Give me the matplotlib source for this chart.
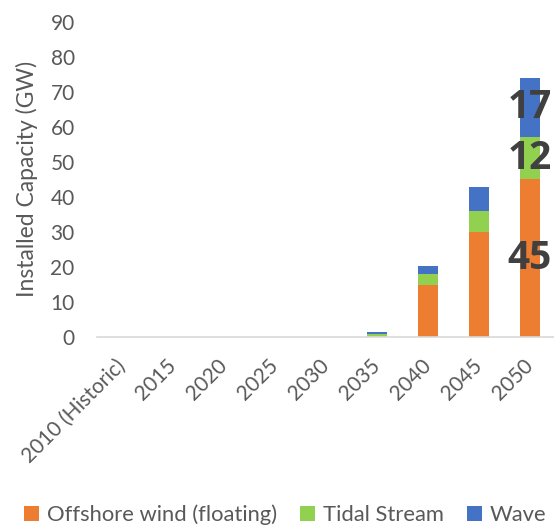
import matplotlib
matplotlib.use("Agg")
import matplotlib.pyplot as plt
from matplotlib.patches import Patch
import numpy as np

categories = ["2010 (Historic)", "2015", "2020", "2025", "2030",
              "2035", "2040", "2045", "2050"]
offshore_wind = [0, 0, 0, 0, 0, 0.2, 15, 30, 45]
tidal_stream = [0, 0, 0, 0, 0, 0.7, 3, 6, 12]
wave = [0, 0, 0, 0, 0, 0.5, 2.3, 6.8, 17]
series_names = ["Offshore wind (floating)", "Tidal Stream", "Wave"]
y_ticks = [0, 10, 20, 30, 40, 50, 60, 70, 80, 90]

colors = ["#ED7D31", "#92D050", "#4472C4"]
text_gray = "#595959"
font = "Lato"

fig = plt.figure(figsize=(5.54, 5.27), dpi=100)
ax = fig.add_axes([0.175, 0.360, 0.827, 0.599])

x = np.arange(len(categories))
width = 0.39
bottom = np.zeros(len(categories))
series = [offshore_wind, tidal_stream, wave]
for vals, col in zip(series, colors):
    vals = np.array(vals, dtype=float)
    ax.bar(x, vals, width, bottom=bottom, color=col, zorder=2)
    bottom += vals

# value labels on the final stacked bar
last = len(categories) - 1
base = 0.0
for vals in series:
    v = vals[last]
    ax.text(x[last], base + v / 2, f"{v:g}", ha="center", va="center",
            fontsize=28, fontweight="bold", color="#404040",
            family="Open Sans", clip_on=False, zorder=3)
    base += v

ax.set_xlim(-0.5, len(categories) - 0.5)
ax.set_ylim(0, 90)
ax.set_yticks(y_ticks)
ax.set_xticks(x)
ax.set_xticklabels(categories, rotation=45, ha="right", va="center",
                   rotation_mode="anchor", family=font, fontsize=15,
                   color=text_gray)
ax.tick_params(axis="x", length=0, pad=18)
ax.tick_params(axis="y", length=0, pad=16, labelsize=15, labelcolor=text_gray)
for lab in ax.get_yticklabels():
    lab.set_family(font)

for s in ["top", "right", "left"]:
    ax.spines[s].set_visible(False)
ax.spines["bottom"].set_color("#D9D9D9")
ax.spines["bottom"].set_linewidth(1.2)

fig.text(27 / 554, 1 - 179 / 527, "Installed Capacity (GW)", rotation=90,
         ha="center", va="center", fontsize=16.5, color=text_gray, family=font)

handles = [Patch(facecolor=c, edgecolor="none") for c in colors]
fig.legend(handles, series_names, loc="center",
           bbox_to_anchor=(285 / 554, 1 - 515 / 527),
           ncol=3, frameon=False, handlelength=0.7, handleheight=0.7,
           handletextpad=0.35, columnspacing=1.05,
           prop={"family": font, "size": 15.8}, labelcolor=text_gray)

fig.savefig("out.png", dpi=100)
